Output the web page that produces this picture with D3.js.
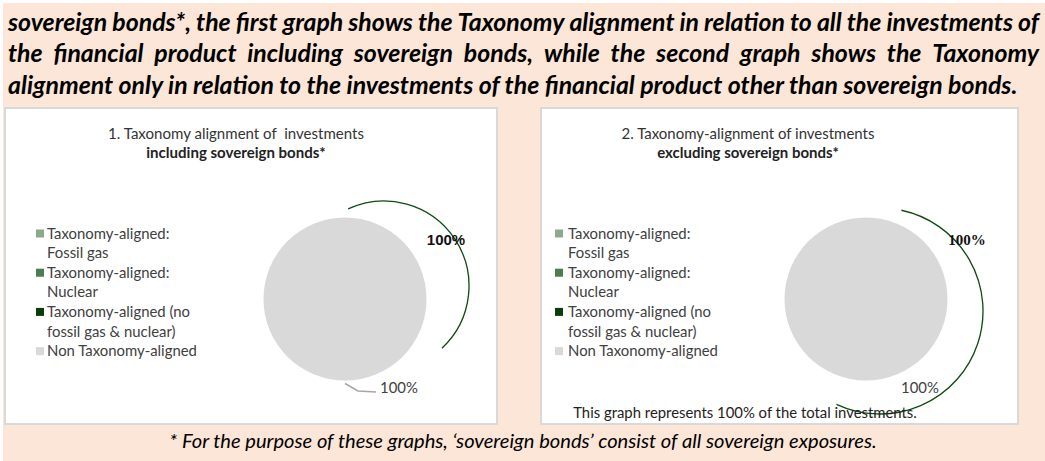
<!DOCTYPE html>
<html>
<head>
<meta charset="utf-8">
<script src="https://cdn.jsdelivr.net/npm/d3@7"></script>
<style>
  body { margin: 0; background: #fff; }
  svg { display: block; }
</style>
</head>
<body>
<div id="chart"></div>
<script>
// ---- data / text ----
const introLines = [
    "sovereign bonds*, the first graph shows the Taxonomy alignment in relation to all the investments of",
    "the financial product including sovereign bonds, while the second graph shows the Taxonomy",
    "alignment only in relation to the investments of the financial product other than sovereign bonds."
];
const footnote = "* For the purpose of these graphs, \u2018sovereign bonds\u2019 consist of all sovereign exposures.";

const categories = [
    "Taxonomy-aligned: Fossil gas",
    "Taxonomy-aligned: Nuclear",
    "Taxonomy-aligned (no fossil gas & nuclear)",
    "Non Taxonomy-aligned"
];
const legendLines = [
    ["Taxonomy-aligned:", "Fossil gas"],
    ["Taxonomy-aligned:", "Nuclear"],
    ["Taxonomy-aligned (no", "fossil gas & nuclear)"],
    ["Non Taxonomy-aligned"]
];
const sliceColors = ["#8DA98D", "#4E7B52", "#0B3B0B", "#D9D9D9"];

const valuesIncl = [0, 0, 0, 100];
const valuesExcl = [0, 0, 0, 100];

const titlesIncl = ["1. Taxonomy alignment of  investments", "including sovereign bonds*"];
const titlesExcl = ["2. Taxonomy-alignment of investments", "excluding sovereign bonds*"];
const alignedLabels = ["100%", "100%"];
const nonAlignedLabels = ["100%", "100%"];
const noteExcl = "This graph represents 100% of the total investments.";

// ---- layout ----
const W = 1045, H = 461;
const sansFont = "Lato, 'Open Sans', sans-serif";

const svg = d3.select("#chart")
    .append("svg")
    .attr("width", W)
    .attr("height", H);

// measure helper, used to size text to the widths seen in the picture
function measure(str, size, weight, style, family) {
    const t = svg.append("text")
        .style("font-family", family || sansFont)
        .style("font-size", size + "px")
        .style("font-weight", weight || "normal")
        .style("font-style", style || "normal")
        .style("white-space", "pre")
        .text(str);
    const w = t.node().getComputedTextLength();
    t.remove();
    return w;
}
function fitSize(str, target, weight, style, family) {
    return 100 * target / measure(str, 100, weight, style, family);
}

// background
svg.append("rect").attr("width", W).attr("height", H).attr("fill", "#fff");
svg.append("rect")
    .attr("x", 3).attr("y", 3)
    .attr("width", W - 3).attr("height", H - 3)
    .attr("fill", "#FBE6D7");

// intro paragraph (justified, bold italic)
const introSize = fitSize(introLines[2], 1010, "bold", "italic");
const introX0 = 8, introX1 = 1039;
const introY = [31, 62, 94];

introLines.forEach((line, i) => {
    const g = svg.append("g");
    if (i === introLines.length - 1) {
        g.append("text")
            .attr("x", introX0).attr("y", introY[i])
            .style("font-family", sansFont)
            .style("font-size", introSize + "px")
            .style("font-weight", "bold")
            .style("font-style", "italic")
            .attr("fill", "#000")
            .text(line);
        return;
    }
    const words = line.split(" ");
    const widths = words.map(w => measure(w, introSize, "bold", "italic"));
    const gap = (introX1 - introX0 - d3.sum(widths)) / (words.length - 1);
    let x = introX0;
    words.forEach((w, k) => {
        g.append("text")
            .attr("x", x).attr("y", introY[i])
            .style("font-family", sansFont)
            .style("font-size", introSize + "px")
            .style("font-weight", "bold")
            .style("font-style", "italic")
            .attr("fill", "#000")
            .text(w);
        x += widths[k] + gap;
    });
});

// footnote
const footSize = fitSize(footnote, 708, "normal", "italic");
svg.append("text")
    .attr("x", 523).attr("y", 448)
    .attr("text-anchor", "middle")
    .style("font-family", sansFont)
    .style("font-size", footSize + "px")
    .style("font-style", "italic")
    .attr("fill", "#000")
    .text(footnote);

// ---- the two pie panels ----
const panels = [
    {
        x: 5, y: 108, w: 492, h: 316,
        titles: titlesIncl, titleCx: 236, titleW: 256,
        values: valuesIncl,
        pieCx: 345, pieCy: 299, r: 81.5,
        legSquareX: 36, legTextX: 47,
        ring: { dx: 39, dy: -13, r: 85, a0: -25, a1: 137 },
        aligned: alignedLabels[0], alignedFont: "'Liberation Sans', Arial, sans-serif",
        nonAligned: nonAlignedLabels[0], leader: true,
        note: null
    },
    {
        x: 541, y: 108, w: 477, h: 316,
        titles: titlesExcl, titleCx: 748, titleW: 253,
        values: valuesExcl,
        pieCx: 866, pieCy: 299, r: 81.5,
        legSquareX: 555, legTextX: 568,
        ring: { dx: 14, dy: 12, r: 103, a0: 12, a1: 205 },
        aligned: alignedLabels[1], alignedFont: "'Liberation Serif', 'Times New Roman', serif",
        nonAligned: nonAlignedLabels[1], leader: false,
        note: noteExcl
    }
];

const pie = d3.pie().sort(null).value(d => d);
const legendSize = fitSize("Non Taxonomy-aligned", 150);
const legendY0 = 238.5, legendStep = 19.6;

panels.forEach(p => {
    const g = svg.append("g");

    g.append("rect")
        .attr("x", p.x).attr("y", p.y)
        .attr("width", p.w).attr("height", p.h)
        .attr("fill", "#fff")
        .attr("stroke", "#D9D9D9")
        .attr("stroke-width", 2);

    // title
    const tSize = fitSize(p.titles[0], p.titleW);
    g.append("text")
        .attr("x", p.titleCx).attr("y", 139)
        .attr("text-anchor", "middle")
        .style("font-family", sansFont)
        .style("font-size", tSize + "px")
        .style("white-space", "pre")
        .attr("fill", "#333")
        .text(p.titles[0]);
    g.append("text")
        .attr("x", p.titleCx).attr("y", 158)
        .attr("text-anchor", "middle")
        .style("font-family", sansFont)
        .style("font-size", tSize + "px")
        .style("font-weight", "bold")
        .attr("fill", "#222")
        .text(p.titles[1]);

    // legend
    let line = 0;
    legendLines.forEach((lines, i) => {
        const yTop = legendY0 + line * legendStep;
        g.append("rect")
            .attr("x", p.legSquareX).attr("y", yTop - 9)
            .attr("width", 8).attr("height", 8)
            .attr("fill", sliceColors[i]);
        lines.forEach((s, k) => {
            g.append("text")
                .attr("x", p.legTextX).attr("y", yTop + k * legendStep)
                .style("font-family", sansFont)
                .style("font-size", legendSize + "px")
                .attr("fill", "#404040")
                .text(s);
        });
        line += lines.length;
    });

    // pie
    const arc = d3.arc().innerRadius(0).outerRadius(p.r);
    g.append("g")
        .attr("transform", `translate(${p.pieCx},${p.pieCy})`)
        .selectAll("path")
        .data(pie(p.values))
        .join("path")
        .attr("d", arc)
        .attr("fill", (d, i) => sliceColors[i]);

    // thin green ring drawn around the pie
    const rad = a => (a - 90) * Math.PI / 180;
    const ringPath = d3.path();
    const cx = p.pieCx + p.ring.dx, cy = p.pieCy + p.ring.dy;
    ringPath.moveTo(cx + p.ring.r * Math.cos(rad(p.ring.a0)), cy + p.ring.r * Math.sin(rad(p.ring.a0)));
    ringPath.arc(cx, cy, p.ring.r, rad(p.ring.a0), rad(p.ring.a1));
    g.append("path")
        .attr("d", ringPath.toString())
        .attr("fill", "none")
        .attr("stroke", "#0E4A12")
        .attr("stroke-width", 1.3);

    // labels
    g.append("text")
        .attr("x", p.pieCx + 101).attr("y", p.pieCy - 54)
        .attr("text-anchor", "middle")
        .style("font-family", p.alignedFont)
        .style("font-size", "15px")
        .style("font-weight", "bold")
        .attr("fill", "#111")
        .text(p.aligned);

    if (p.leader) {
        const lp = d3.line()([
            [p.pieCx, p.pieCy + p.r + 3],
            [p.pieCx + 13, p.pieCy + 92],
            [p.pieCx + 31, p.pieCy + 93]
        ]);
        g.append("path")
            .attr("d", lp)
            .attr("fill", "none")
            .attr("stroke", "#A6A6A6")
            .attr("stroke-width", 1.5);
    }
    g.append("text")
        .attr("x", p.pieCx + 35).attr("y", p.pieCy + 94)
        .style("font-family", sansFont)
        .style("font-size", legendSize + "px")
        .attr("fill", "#404040")
        .text(p.nonAligned);

    if (p.note) {
        g.append("text")
            .attr("x", 745).attr("y", 418)
            .attr("text-anchor", "middle")
            .style("font-family", sansFont)
            .style("font-size", fitSize(p.note, 344) + "px")
            .attr("fill", "#222")
            .text(p.note);
    }
});
</script>
</body>
</html>
